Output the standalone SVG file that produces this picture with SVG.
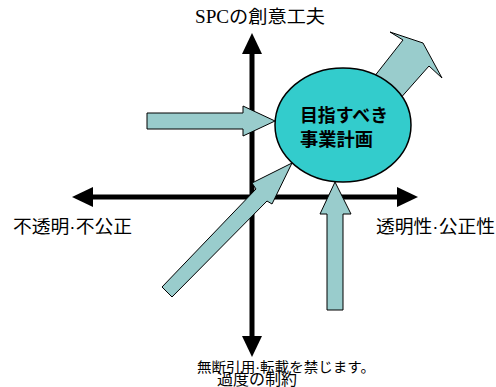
<svg xmlns="http://www.w3.org/2000/svg" width="496" height="387" viewBox="0 0 496 387">
<style>
.axis{stroke:#000;stroke-width:5;fill:none}
.head{fill:#000}
.arr{fill:#99CCCC;stroke:#000;stroke-width:1;stroke-linejoin:miter}
.lbl{font-family:"Liberation Sans","Noto Sans CJK JP",sans-serif;fill:#000}
.serif{font-family:"Liberation Serif","Noto Sans CJK JP",serif;fill:#000}
.title{font-family:"Noto Sans CJK JP",sans-serif;font-weight:bold;font-size:18px;fill:#000}
</style>
<rect width="496" height="387" fill="#fff"/>
<g id="connectors">
<g id="axes">
<line class="axis" x1="252" y1="52" x2="252" y2="338"/>
<polygon class="head" points="252,33 242,54 262,54"/>
<polygon class="head" points="252,357 242,336 262,336"/>
<line class="axis" x1="91" y1="197" x2="400" y2="197"/>
<polygon class="head" points="72,197 93,187 93,207"/>
<polygon class="head" points="418,197 397,187 397,207"/>
</g>
<polygon id="arrow-left" class="arr" points="147,113 243,113 243,106 275,121 243,136 243,129 147,129"/>
<polygon id="arrow-diag" class="arr" points="162,287 256,189 252,183 292,163 272,204 267,201 172,297"/>
<polygon id="arrow-up" class="arr" points="327,310 327,214 320,214 335,182 351,214 343,214 343,310"/>
<polygon id="arrow-out" class="arr" points="370,82 403,40 390,32 423,43 442,78 429,66 398,101"/>
</g>
<g id="node-goal">
<ellipse cx="343" cy="125" rx="68" ry="57" fill="#33CCCC" stroke="#000" stroke-width="1.5"/>
<text class="title" x="300" y="122" textLength="88" lengthAdjust="spacingAndGlyphs">目指すべき</text>
<text class="title" x="300" y="146" textLength="73" lengthAdjust="spacingAndGlyphs">事業計画</text>
</g>
<g id="label-top"><text class="serif" x="195" y="23" font-size="18" textLength="130" lengthAdjust="spacingAndGlyphs">SPCの創意工夫</text></g>
<g id="label-left"><text class="lbl" x="13" y="233" font-size="18" textLength="119" lengthAdjust="spacingAndGlyphs">不透明·不公正</text></g>
<g id="label-right"><text class="lbl" x="376" y="233" font-size="18" textLength="119" lengthAdjust="spacingAndGlyphs">透明性·公正性</text></g>
<g id="label-bottom"><text class="lbl" x="217" y="385" font-size="16" textLength="80" lengthAdjust="spacingAndGlyphs">過度の制約</text></g>
<g id="notice"><text class="lbl" x="197" y="372" font-size="14" textLength="178" lengthAdjust="spacingAndGlyphs">無断引用·転載を禁じます。</text></g>
</svg>
